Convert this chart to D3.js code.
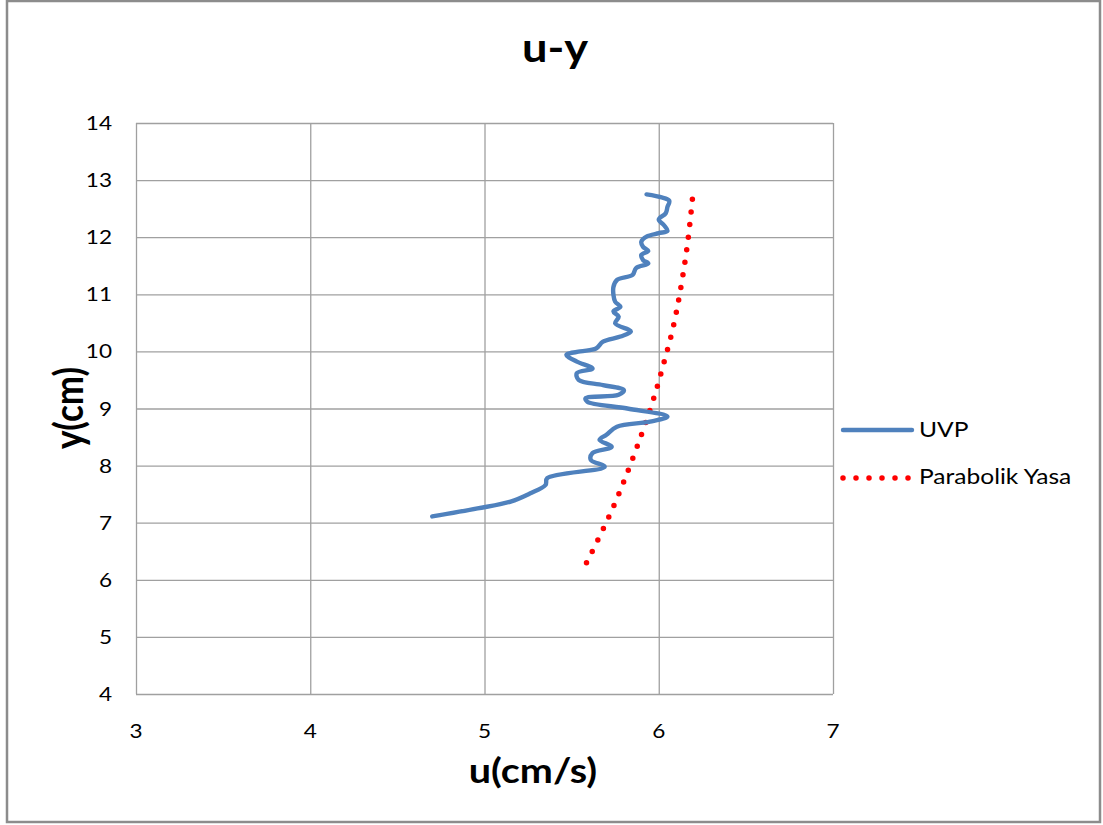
<html>
<head>
<meta charset="utf-8">
<title>u-y</title>
<style type="text/css">
    body { margin: 0; background: #fff; }
    text { font-family: Lato, "Open Sans", sans-serif; fill: #000; }
</style>
</head>
<body>
<script src="https://d3js.org/d3.v7.min.js"></script>
<script>

    var uvpU = [5.93, 6.06, 6.05, 6.04, 6.00, 6.03, 6.05, 6.00, 5.93, 5.90, 5.91, 5.94, 5.90, 5.91, 5.94,
                5.87, 5.85, 5.76, 5.74, 5.74, 5.75, 5.78, 5.74, 5.77, 5.75, 5.84, 5.78, 5.68, 5.64, 5.55,
                5.47, 5.53, 5.62, 5.53, 5.54, 5.68, 5.80, 5.77, 5.58, 5.59, 5.82, 6.05, 5.95, 5.76, 5.70,
                5.66, 5.73, 5.62, 5.61, 5.69, 5.36, 5.35, 5.26, 5.15, 4.96, 4.70];
    var uvpY = [12.75, 12.64, 12.53, 12.42, 12.31, 12.21, 12.11, 12.07, 12.01, 11.92, 11.83, 11.76, 11.69, 11.60, 11.54,
                11.46, 11.34, 11.25, 11.13, 10.99, 10.87, 10.78, 10.70, 10.61, 10.49, 10.35, 10.26, 10.17, 10.05, 10.00,
                9.94, 9.82, 9.70, 9.62, 9.50, 9.41, 9.32, 9.24, 9.18, 9.12, 9.00, 8.86, 8.77, 8.68, 8.54,
                8.45, 8.33, 8.22, 8.10, 7.98, 7.78, 7.66, 7.51, 7.37, 7.25, 7.11];

    // parabolic law curve
    var parU = [6.193, 6.160, 6.126, 6.084, 6.028, 5.967, 5.896, 5.818, 5.734, 5.640, 5.573];
    var parY = [12.664, 11.770, 11.105, 10.440, 9.785, 9.137, 8.501, 7.865, 7.240, 6.632, 6.224];

    var xTicks = [3, 4, 5, 6, 7];
    var yTicks = [4, 5, 6, 7, 8, 9, 10, 11, 12, 13, 14];
    var seriesNames = ["UVP", "Parabolik Yasa"];

    var W = 1103, H = 825;
    var margin = {top: 123, right: 270, bottom: 131, left: 136},
        width = W - margin.left - margin.right,
        height = H - margin.top - margin.bottom;

    // the original text is a bit wider than Lato, so stretch it horizontally
    var sx = 1.13;
    function place(px, py, s) {
        return "translate(" + px + "," + py + ") scale(" + (s || sx) + ",1)";
    }

    var x = d3.scaleLinear().domain([3, 7]).range([0, width]);
    var y = d3.scaleLinear().domain([4, 14]).range([height, 0]);

    var svg = d3.select("body").append("svg")
        .attr("width", W)
        .attr("height", H);

    // outer chart border
    svg.append("rect")
        .attr("x", 7).attr("y", 1)
        .attr("width", 1093).attr("height", 821)
        .attr("fill", "#fff")
        .attr("stroke", "#8c8c8c")
        .attr("stroke-width", 2.5);

    var g = svg.append("g")
        .attr("transform", "translate(" + margin.left + "," + margin.top + ")");

    // grid lines
    g.selectAll(".vgrid").data(xTicks).enter().append("line")
        .attr("x1", function(d) { return x(d) + 0.5; })
        .attr("x2", function(d) { return x(d) + 0.5; })
        .attr("y1", 0).attr("y2", height)
        .attr("stroke", "#a0a0a0").attr("stroke-width", 1.3);
    g.selectAll(".hgrid").data(yTicks).enter().append("line")
        .attr("y1", function(d) { return y(d) + 0.5; })
        .attr("y2", function(d) { return y(d) + 0.5; })
        .attr("x1", 0).attr("x2", width)
        .attr("stroke", "#a0a0a0").attr("stroke-width", 1.3);

    // tick labels
    g.selectAll(".xlab").data(xTicks).enter().append("text")
        .attr("transform", function(d) { return place(x(d), height + 44); })
        .attr("text-anchor", "middle")
        .style("font-size", "20px")
        .text(function(d) { return d; });
    g.selectAll(".ylab").data(yTicks).enter().append("text")
        .attr("transform", function(d) { return place(-24, y(d) + 7); })
        .attr("text-anchor", "end")
        .style("font-size", "20px")
        .text(function(d) { return d; });

    var line = d3.line()
        .x(function(d) { return x(d[0]); })
        .y(function(d) { return y(d[1]); });

    var uvp = uvpU.map(function(u, i) { return [u, uvpY[i]]; });
    var par = parU.map(function(u, i) { return [u, parY[i]]; });

    g.append("path")
        .datum(par)
        .attr("d", line.curve(d3.curveMonotoneY))
        .attr("fill", "none")
        .attr("stroke", "#ff0000")
        .attr("stroke-width", 5.5)
        .attr("stroke-linecap", "round")
        .attr("stroke-dasharray", "0 12.7");

    g.append("path")
        .datum(uvp)
        .attr("d", line.curve(d3.curveCatmullRom.alpha(0.5)))
        .attr("fill", "none")
        .attr("stroke", "#4f81bd")
        .attr("stroke-width", 4.4)
        .attr("stroke-linejoin", "round")
        .attr("stroke-linecap", "round");

    // titles
    svg.append("text")
        .attr("transform", place(555, 62))
        .attr("text-anchor", "middle")
        .style("font-size", "40px").style("font-weight", "bold")
        .text("u-y");

    svg.append("text")
        .attr("transform", place(533, 783))
        .attr("text-anchor", "middle")
        .style("font-size", "35px").style("font-weight", "bold")
        .text("u(cm/s)");

    svg.append("text")
        .attr("transform", "translate(83,408) rotate(-90) scale(1," + sx + ")")
        .attr("text-anchor", "middle")
        .style("font-size", "35px").style("font-weight", "bold")
        .text("y(cm)");

    // legend
    var legend = svg.append("g").attr("transform", "translate(843,0)");
    legend.append("line")
        .attr("x1", 0).attr("x2", 69).attr("y1", 430).attr("y2", 430)
        .attr("stroke", "#4f81bd").attr("stroke-width", 4.4)
        .attr("stroke-linecap", "round");
    legend.append("line")
        .attr("x1", 0).attr("x2", 66).attr("y1", 478).attr("y2", 478)
        .attr("stroke", "#ff0000").attr("stroke-width", 5.5)
        .attr("stroke-linecap", "round")
        .attr("stroke-dasharray", "0 13");
    legend.selectAll(".ltext").data(seriesNames).enter().append("text")
        .attr("transform", function(d, i) { return place(76, 437 + i * 47, 1.17); })
        .style("font-size", "21px")
        .text(function(d) { return d; });

</script>
</body>
</html>
